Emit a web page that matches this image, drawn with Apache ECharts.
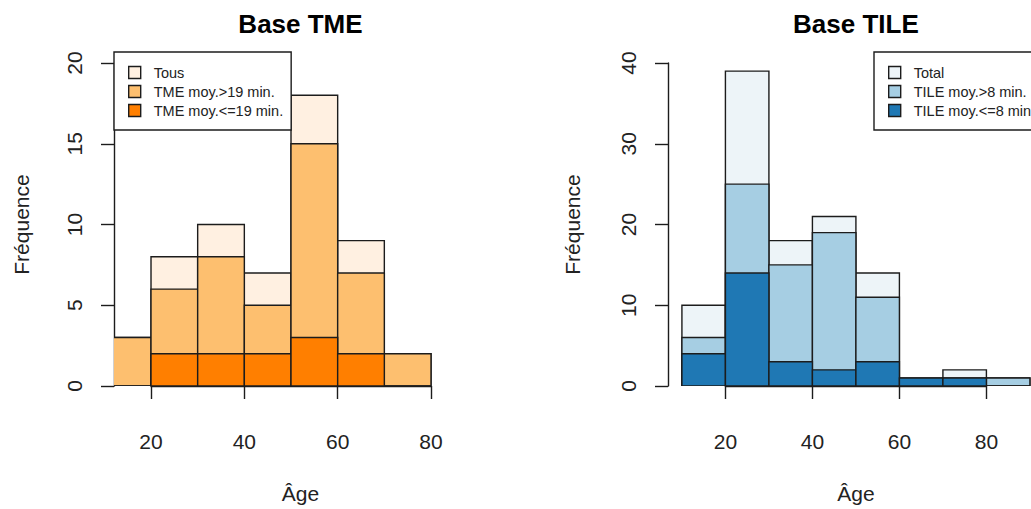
<!DOCTYPE html>
<html>
<head>
<meta charset="utf-8">
<script src="https://cdn.jsdelivr.net/npm/echarts@6/dist/echarts.min.js"></script>
<style>html,body{margin:0;padding:0;background:#fff;}#c{width:1031px;height:509px;}</style>
</head>
<body>
<div id="c"></div>
<script>
// ---- Data ----
const tmeBreaks = [10, 20, 30, 40, 50, 60, 70, 80];
const tmeTous   = [3, 8, 10, 7, 18, 9, 2];
const tmeSup19  = [3, 6, 8, 5, 15, 7, 2];
const tmeInf19  = [0, 2, 2, 2, 3, 2, 0];

const tileBreaks = [10, 20, 30, 40, 50, 60, 70, 80, 90];
const tileTotal  = [10, 39, 18, 21, 14, 1, 2, 1];
const tileSup8   = [6, 25, 15, 19, 11, 0, 1, 1];
const tileInf8   = [4, 14, 3, 2, 3, 1, 1, 0];

const tmeNames  = ['Tous', 'TME moy.>19 min.', 'TME moy.<=19 min.'];
const tileNames = ['Total', 'TILE moy.>8 min.', 'TILE moy.<=8 min.'];
const titles = ['Base TME', 'Base TILE'];
const xTicks = [20, 40, 60, 80];

// ---- Styling / layout ----
const FONT = '"Liberation Sans", Arial, sans-serif';
const INK = '#1c1c1c';
const LW = 1.4;
const tmeColors  = ['#FFF0E1', '#FDBF6F', '#FF7F00'];
const tileColors = ['#EDF4F8', '#A6CEE3', '#1F78B4'];

// plot regions (the right one runs past the page edge in the original; it is cut at the edge)
const G = [
  {left: 114, top: 63, width: 373, height: 323, xmin: 12.07, xmax: 92.0, cx: 52.03, ymax: 20, yint: 5, nameGap: 82, legendLeft: 114},
  {left: 668, top: 63, width: 363, height: 323, xmin: 6.8, xmax: 90.25, cx: 50.0, ymax: 40, yint: 10, nameGap: 85, legendLeft: 874}
];
function px(g, v) { return g.left + (v - g.xmin) / (g.xmax - g.xmin) * g.width; }

function binData(breaks, counts) {
  return counts.map((c, i) => [breaks[i], breaks[i + 1], c]);
}

function histSeries(name, breaks, counts, color, xi, yi) {
  return {
    type: 'custom', name: name, xAxisIndex: xi, yAxisIndex: yi, clip: true,
    itemStyle: {color: color, borderColor: INK, borderWidth: LW},
    data: binData(breaks, counts),
    encode: {x: [0, 1], y: 2},
    renderItem: function (params, api) {
      const p0 = api.coord([api.value(0), api.value(2)]);
      const p1 = api.coord([api.value(1), 0]);
      return {
        type: 'rect',
        shape: {x: p0[0], y: p0[1], width: p1[0] - p0[0], height: p1[1] - p0[1]},
        style: {fill: color, stroke: INK, lineWidth: LW}
      };
    }
  };
}

const grids = [], xAxes = [], yAxes = [];
const mainX = [], mainY = [];
G.forEach((g, k) => {
  // main plot grid
  const gi = grids.length;
  grids.push({left: g.left, top: g.top, width: g.width, height: g.height});
  mainX.push(xAxes.length); mainY.push(yAxes.length);
  xAxes.push({type: 'value', gridIndex: gi, min: g.xmin, max: g.xmax, show: false});
  yAxes.push({
    type: 'value', gridIndex: gi, min: 0, max: g.ymax, interval: g.yint,
    axisLine: {show: true, lineStyle: {color: INK, width: LW}},
    axisTick: {show: true, inside: false, length: 13, lineStyle: {color: INK, width: LW}},
    axisLabel: {show: true, rotate: 90, margin: 29, fontFamily: FONT, fontSize: 21, color: '#222'},
    splitLine: {show: false},
    name: 'Fréquence', nameLocation: 'middle', nameRotate: 90, nameGap: g.nameGap,
    nameTextStyle: {fontFamily: FONT, fontSize: 21, color: '#222'}
  });

  // axis-only grid spanning the tick range 20..80
  const a0 = px(g, xTicks[0]), a1 = px(g, xTicks[xTicks.length - 1]);
  const ai = grids.length;
  grids.push({left: a0, top: g.top, width: a1 - a0, height: g.height});
  xAxes.push({
    type: 'value', gridIndex: ai, min: xTicks[0], max: xTicks[xTicks.length - 1], interval: 20,
    position: 'bottom', offset: 14,
    axisLine: {show: true, lineStyle: {color: INK, width: LW}},
    axisTick: {show: true, inside: false, length: 13, lineStyle: {color: INK, width: LW}},
    axisLabel: {show: true, margin: 31, fontFamily: FONT, fontSize: 21, color: '#222'},
    splitLine: {show: false}
  });
  yAxes.push({type: 'value', gridIndex: ai, min: 0, max: 1, show: false});

  // label grid centred on the plot region (title + x-axis title)
  const c = px(g, g.cx);
  const li = grids.length;
  grids.push({left: c - 100, top: g.top, width: 200, height: g.height});
  xAxes.push({
    type: 'value', gridIndex: li, min: 0, max: 1, position: 'bottom',
    axisLine: {show: false}, axisTick: {show: false}, axisLabel: {show: false}, splitLine: {show: false},
    name: 'Âge', nameLocation: 'middle', nameGap: 102,
    nameTextStyle: {fontFamily: FONT, fontSize: 21, color: '#222'}
  });
  xAxes.push({
    type: 'value', gridIndex: li, min: 0, max: 1, position: 'top',
    axisLine: {show: false}, axisTick: {show: false}, axisLabel: {show: false}, splitLine: {show: false},
    name: titles[k], nameLocation: 'middle', nameGap: 26,
    nameTextStyle: {fontFamily: FONT, fontSize: 26, fontWeight: 'bold', color: '#000'}
  });
  yAxes.push({type: 'value', gridIndex: li, min: 0, max: 1, show: false});
});

const series = [];
[tmeTous, tmeSup19, tmeInf19].forEach((arr, i) =>
  series.push(histSeries(tmeNames[i], tmeBreaks, arr, tmeColors[i], mainX[0], mainY[0])));
[tileTotal, tileSup8, tileInf8].forEach((arr, i) =>
  series.push(histSeries(tileNames[i], tileBreaks, arr, tileColors[i], mainX[1], mainY[1])));

function legendFor(names, left) {
  return {
    data: names, left: left, top: 52, orient: 'vertical', icon: 'rect',
    itemWidth: 12, itemHeight: 12, itemGap: 4, padding: [13, 8, 12, 14],
    backgroundColor: '#fff', borderColor: INK, borderWidth: LW, borderRadius: 0,
    selectedMode: false, z: 10,
    itemStyle: {borderColor: INK, borderWidth: LW},
    textStyle: {fontFamily: FONT, fontSize: 14.5, color: '#222', padding: [0, 0, 0, 8], lineHeight: 14}
  };
}

const chart = echarts.init(document.getElementById('c'), null, {renderer: 'svg'});
chart.setOption({
  animation: false,
  backgroundColor: '#fff',
  grid: grids,
  xAxis: xAxes,
  yAxis: yAxes,
  legend: [legendFor(tmeNames, G[0].legendLeft), legendFor(tileNames, G[1].legendLeft)],
  series: series
});
</script>
</body>
</html>
